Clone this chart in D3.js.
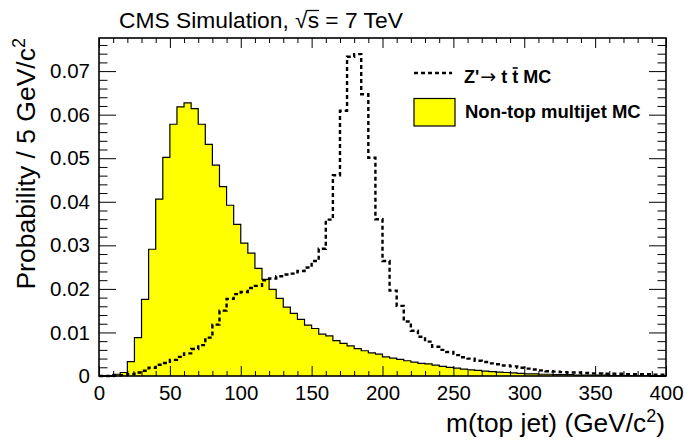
<!DOCTYPE html>
<html>
<head>
<meta charset="utf-8">
<script src="https://cdn.jsdelivr.net/npm/d3@7"></script>
<style>
  html, body { margin: 0; padding: 0; background: #fff; }
  svg { display: block; }
  text { font-family: "Liberation Sans", Arial, Helvetica, sans-serif; fill: #000; }
</style>
</head>
<body>
<svg id="chart" width="686" height="441"></svg>
<script>
// ---- data: 80 bins of 5 GeV from 0 to 400 ----
const binEdges = d3.range(0, 400, 5);
const qcdValues = [
  0.0001, 0.0001, 0.0004, 0.0008, 0.0033, 0.0088, 0.0176, 0.0291, 0.0406, 0.0502,
  0.0578, 0.0618, 0.0627, 0.0614, 0.0578, 0.0532, 0.0484, 0.0435, 0.0392, 0.0348,
  0.0305, 0.0282, 0.0247, 0.0222, 0.0199, 0.0178, 0.0158, 0.0144, 0.0130, 0.0117,
  0.0109, 0.0096, 0.0092, 0.0081, 0.0075, 0.0069, 0.0063, 0.0058, 0.0053, 0.0050,
  0.0044, 0.0041, 0.0038, 0.0035, 0.0032, 0.0029, 0.0028, 0.0025, 0.0022, 0.0020,
  0.0018, 0.0016, 0.0014, 0.0013, 0.0011, 0.0010, 0.0009, 0.0008, 0.0007, 0.0006,
  0.0005, 0.0005, 0.0004, 0.0004, 0.0003, 0.0003, 0.0003, 0.0002, 0.0002, 0.0002,
  0.0002, 0.0002, 0.0001, 0.0001, 0.0001, 0.0001, 0.0001, 0.0001, 0.0001, 0.0001
];
const zprimeValues = [
  0.0000, 0.0000, 0.0001, 0.0002, 0.0004, 0.0008, 0.0012, 0.0019, 0.0026, 0.0030,
  0.0037, 0.0044, 0.0052, 0.0062, 0.0071, 0.0088, 0.0118, 0.0150, 0.0177, 0.0188,
  0.0193, 0.0202, 0.0207, 0.0220, 0.0224, 0.0229, 0.0233, 0.0235, 0.0241, 0.0249,
  0.0264, 0.0292, 0.0359, 0.0461, 0.0609, 0.0733, 0.0739, 0.0647, 0.0501, 0.0360,
  0.0264, 0.0196, 0.0161, 0.0125, 0.0104, 0.0090, 0.0079, 0.0067, 0.0060, 0.0055,
  0.0048, 0.0043, 0.0040, 0.0035, 0.0032, 0.0029, 0.0027, 0.0024, 0.0022, 0.0019,
  0.0017, 0.0015, 0.0013, 0.0011, 0.0010, 0.0009, 0.0008, 0.0008, 0.0007, 0.0006,
  0.0006, 0.0005, 0.0005, 0.0005, 0.0004, 0.0004, 0.0004, 0.0004, 0.0003, 0.0003
];
const xMajorTicks = [0, 50, 100, 150, 200, 250, 300, 350, 400];
const yMajorTicks = [0, 0.01, 0.02, 0.03, 0.04, 0.05, 0.06, 0.07];
const legendLabels = ["Non-top multijet MC"];

// ---- layout ----
const svg = d3.select("#chart");
const L = 99, R = 666, T = 38, B = 376;
const x = d3.scaleLinear().domain([0, 400]).range([L, R]);
const y = d3.scaleLinear().domain([0, 0.0776]).range([B, T]);

const toPoints = vals => vals.map((v, i) => [binEdges[i], v]).concat([[400, vals[vals.length - 1]]]);

// QCD filled histogram
const area = d3.area().curve(d3.curveStepAfter)
  .x(d => x(d[0])).y0(y(0)).y1(d => y(d[1]));
const line = d3.line().curve(d3.curveStepAfter)
  .x(d => x(d[0])).y(d => y(d[1]));

const qcdPts = toPoints(qcdValues);
svg.append("path").attr("d", area(qcdPts)).attr("fill", "#ffff00");
svg.append("path").attr("d", line(qcdPts)).attr("fill", "none")
  .attr("stroke", "#000").attr("stroke-width", 1.2);

// Z' dashed histogram
const zPts = toPoints(zprimeValues);
svg.append("path").attr("d", line(zPts)).attr("fill", "none")
  .attr("stroke", "#000").attr("stroke-width", 2.4)
  .attr("stroke-dasharray", "4,3");

// ---- axes ----
const xMinor = d3.range(0, 401, 10).filter(v => v % 50 !== 0);
const yMinor = d3.range(0, 0.0776, 0.002).filter(v => Math.abs(v / 0.01 - Math.round(v / 0.01)) > 1e-6);

function styleAxis(g) {
  g.select(".domain").remove();
  g.selectAll(".tick line").attr("stroke", "#000").attr("stroke-width", 1);
  g.selectAll(".tick text").style("font-size", "20.5px")
    .style("font-family", '"Liberation Sans", Arial, Helvetica, sans-serif').attr("fill", "#000");
}

// bottom
svg.append("g").attr("transform", `translate(0,${B})`)
  .call(d3.axisBottom(x).tickValues(xMajorTicks).tickSizeInner(-10).tickSizeOuter(0)
        .tickPadding(9.5).tickFormat(d3.format("d")))
  .call(styleAxis);
svg.append("g").attr("transform", `translate(0,${B})`)
  .call(d3.axisBottom(x).tickValues(xMinor).tickSizeInner(-5).tickSizeOuter(0).tickFormat(""))
  .call(styleAxis);
// top
svg.append("g").attr("transform", `translate(0,${T})`)
  .call(d3.axisTop(x).tickValues(xMajorTicks).tickSizeInner(-10).tickSizeOuter(0).tickFormat(""))
  .call(styleAxis);
svg.append("g").attr("transform", `translate(0,${T})`)
  .call(d3.axisTop(x).tickValues(xMinor).tickSizeInner(-5).tickSizeOuter(0).tickFormat(""))
  .call(styleAxis);
// left
svg.append("g").attr("transform", `translate(${L},0)`)
  .call(d3.axisLeft(y).tickValues(yMajorTicks).tickSizeInner(-17).tickSizeOuter(0)
        .tickPadding(9).tickFormat(d => d === 0 ? "0" : d3.format(".2f")(d)))
  .call(styleAxis);
svg.append("g").attr("transform", `translate(${L},0)`)
  .call(d3.axisLeft(y).tickValues(yMinor).tickSizeInner(-8.5).tickSizeOuter(0).tickFormat(""))
  .call(styleAxis);
// right
svg.append("g").attr("transform", `translate(${R},0)`)
  .call(d3.axisRight(y).tickValues(yMajorTicks).tickSizeInner(-17).tickSizeOuter(0).tickFormat(""))
  .call(styleAxis);
svg.append("g").attr("transform", `translate(${R},0)`)
  .call(d3.axisRight(y).tickValues(yMinor).tickSizeInner(-8.5).tickSizeOuter(0).tickFormat(""))
  .call(styleAxis);

// frame
svg.append("rect").attr("x", L).attr("y", T).attr("width", R - L).attr("height", B - T)
  .attr("fill", "none").attr("stroke", "#000").attr("stroke-width", 1.6);

// ---- axis titles ----
const xt = svg.append("text").attr("x", 665).attr("y", 432).attr("text-anchor", "end")
  .style("font-size", "26.3px");
xt.append("tspan").text("m(top jet) (GeV/c");
xt.append("tspan").attr("dy", -10).style("font-size", "18px").text("2");
xt.append("tspan").attr("dy", 10).text(")");

const yt = svg.append("text").attr("transform", "translate(35,38) rotate(-90)")
  .attr("text-anchor", "end").style("font-size", "26.5px");
yt.append("tspan").text("Probability / 5 GeV/c");
yt.append("tspan").attr("dy", -10).style("font-size", "18px").text("2");

// ---- title ----
const tt = svg.append("text").attr("x", 119).attr("y", 28).style("font-size", "22.8px");
tt.append("tspan").text("CMS Simulation, ");
const sq = tt.append("tspan").text("\u221A");
const ss = tt.append("tspan").text("s");
tt.append("tspan").text(" = 7 TeV");
{
  const b1 = sq.node().getBBox();
  const b2 = ss.node().getBBox();
  const yl = 28 - 17.5;
  svg.append("line").attr("x1", b1.x + b1.width - 1).attr("x2", b2.x + b2.width)
    .attr("y1", yl).attr("y2", yl).attr("stroke", "#000").attr("stroke-width", 1.3);
}

// ---- legend ----
svg.append("line").attr("x1", 414).attr("x2", 452).attr("y1", 73).attr("y2", 73)
  .attr("stroke", "#000").attr("stroke-width", 2.4).attr("stroke-dasharray", "4,3");
const lt = svg.append("text").attr("x", 464).attr("y", 83)
  .style("font-size", "18px").style("font-weight", "bold");
lt.append("tspan").text("Z'");
lt.append("tspan").style("font-weight", "normal").style("font-family", '"DejaVu Sans", sans-serif')
  .style("font-size", "19px").attr("dx", 1).text("\u2192");
lt.append("tspan").text(" t ");
const tbar = lt.append("tspan").text("t");
lt.append("tspan").text(" MC");
{
  const b = tbar.node().getBBox();
  svg.append("line").attr("x1", b.x + 0.5).attr("x2", b.x + b.width - 0.5)
    .attr("y1", 83 - 15).attr("y2", 83 - 15).attr("stroke", "#000").attr("stroke-width", 1.6);
}

svg.append("rect").attr("x", 414).attr("y", 98.5).attr("width", 41).attr("height", 27.5)
  .attr("fill", "#ffff00").attr("stroke", "#000").attr("stroke-width", 1.2);
svg.append("text").attr("x", 465).attr("y", 118)
  .style("font-size", "18.5px").style("font-weight", "bold").text(legendLabels[0]);
</script>
</body>
</html>
